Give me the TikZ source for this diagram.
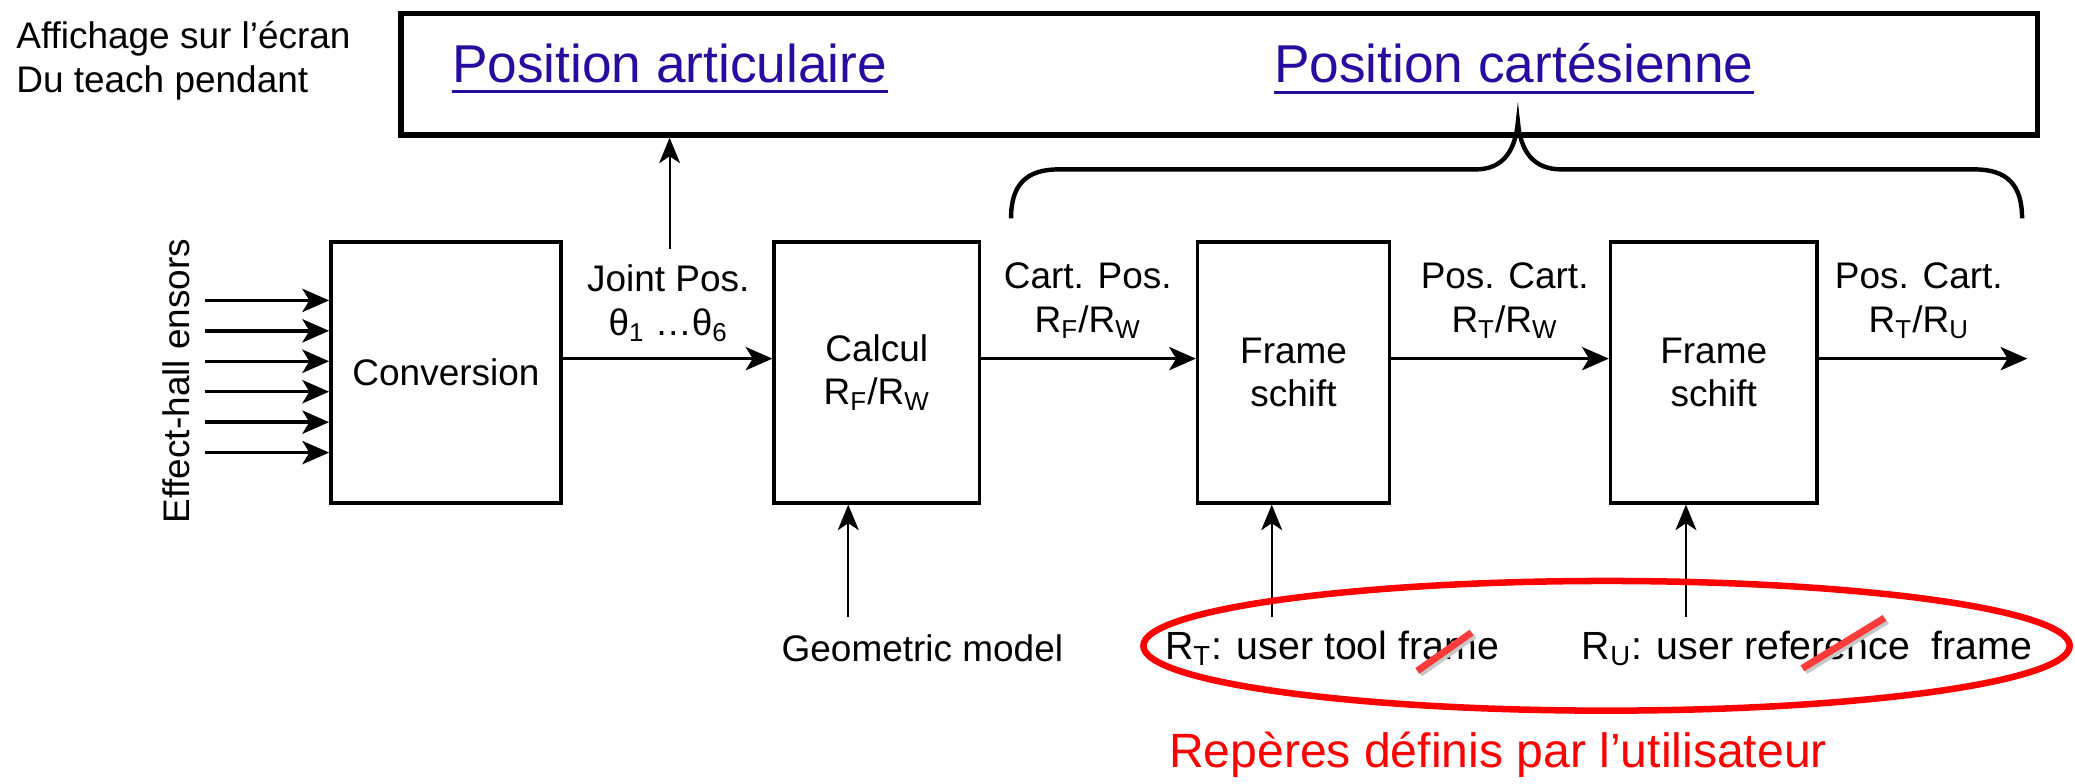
\documentclass[tikz,border=0pt]{standalone}
\usepackage{fontspec}
\setmainfont{Liberation Sans}
\usetikzlibrary{arrows.meta}
\definecolor{linkblue}{RGB}{40,12,160}
\definecolor{strikered}{RGB}{255,60,60}
\newcommand{\fsA}{\fontsize{15.9pt}{18.8pt}\selectfont}
\newcommand{\fsB}{\fontsize{22.9pt}{26pt}\selectfont}
\newcommand{\fsC}{\fontsize{20.7pt}{24pt}\selectfont}
\newcommand{\fsD}{\fontsize{16.9pt}{19pt}\selectfont}
\begin{document}
\begin{tikzpicture}[x=0.02cm,y=-0.02cm,
  block/.style={draw, line width=1.5pt, minimum height=3.94cm, align=center, font=\fsA, inner sep=0pt},
  lbl/.style={align=center, font=\fsA, inner sep=0pt},
  arr/.style={-{Stealth[length=11.5pt,width=10pt,inset=3pt]}, line width=1.45pt},
  varr/.style={-{Stealth[length=11pt,width=9pt,inset=3pt]}, line width=0.9pt},
  strike/.style={line width=3pt, strikered},
  strikeshadow/.style={line width=3pt, black!22}]
\useasboundingbox (0,0) rectangle (1568,592);

% teach pendant display
\node[align=left, anchor=west, font=\fsA, inner sep=0pt] (title) at (12,46)
  {Affichage sur l’écran\\Du teach pendant};
\node[draw, line width=2.3pt, minimum width=24.74cm, minimum height=1.84cm, inner sep=0pt] (disp) at (921.5,56) {};
\node[font=\fsB, text=linkblue, inner xsep=0pt] (pa) at (506,48) {Position articulaire};
\node[font=\fsB, text=linkblue, inner xsep=0pt] (pc) at (1144,48) {Position cartésienne};
\draw[linkblue, line width=1.2pt] ([yshift=-4pt]pa.base west) -- ([yshift=-4pt]pa.base east);
\draw[linkblue, line width=1.2pt] ([yshift=-4pt]pc.base west) -- ([yshift=-4pt]pc.base east);

% processing chain
\node[block, minimum width=3.48cm] (conv) at (337,281.5) {Conversion};
\node[block, minimum width=3.10cm] (calc) at (662.5,281.5) {Calcul\\R\textsubscript{F}/R\textsubscript{W}};
\node[block, minimum width=2.90cm] (fs1) at (977.5,281.5) {Frame\\schift};
\node[block, minimum width=3.12cm] (fs2) at (1295,281.5) {Frame\\schift};

\node[lbl, rotate=90] (sens) at (133,288) {Effect-hall ensors};
\foreach \i/\yy in {1/227,2/250,3/273,4/296,5/319,6/342}{
  \coordinate (s\i) at (155,\yy);
  \draw[arr] (s\i) -- (s\i -| conv.west);
}

\coordinate (row) at (0,271);
\draw[arr] (conv.east |- row) -- (calc.west |- row);
\draw[arr] (calc.east |- row) -- (fs1.west |- row);
\draw[arr] (fs1.east |- row) -- (fs2.west |- row);
\coordinate (out) at (1532,271);
\draw[arr] (fs2.east |- row) -- (out);

\node[lbl] (jpos) at (505,229) {Joint Pos.\\θ\textsubscript{1} …θ\textsubscript{6}};
\node[lbl] (cpos) at (822,227) {Cart. Pos.\\R\textsubscript{F}/R\textsubscript{W}};
\node[lbl] (pos2) at (1137,227) {Pos. Cart.\\R\textsubscript{T}/R\textsubscript{W}};
\node[lbl] (pos3) at (1450,227) {Pos. Cart.\\R\textsubscript{T}/R\textsubscript{U}};

\coordinate (jp) at (506,188);
\draw[varr] (jp) -- (jp |- disp.south);

% brace grouping the cartesian outputs
\draw[line width=1.9pt]
  (764,165) .. controls (764,140) and (775,128) .. (800,128) -- (1115,128)
  .. controls (1135,128) and (1145,115) .. (1147,92)
  .. controls (1149,115) and (1159,128) .. (1180,128) -- (1492,128)
  .. controls (1517,128) and (1528,140) .. (1528,165);

% external inputs
\node[lbl] (geo) at (697,490) {Geometric model};
\coordinate (g0) at (641,466);
\draw[varr] (g0) -- (g0 |- calc.south);

\node[font=\fsD, inner sep=0pt, anchor=west] (rt) at (880,490) {R\textsubscript{T}: user tool frame};
\node[font=\fsD, inner sep=0pt, anchor=west] (ru) at (1195,490) {R\textsubscript{U}: user reference\ \ frame};
\coordinate (t0) at (961,466);
\draw[varr] (t0) -- (t0 |- fs1.south);
\coordinate (u0) at (1274,466);
\draw[varr] (u0) -- (u0 |- fs2.south);

% user frames highlight
\draw[red, line width=2.8pt] (1214,488) ellipse [x radius=350, y radius=49];
\draw[strikeshadow] (1073,509) -- (1114,480);
\draw[strike] (1071,507) -- (1112,478);
\draw[strikeshadow] (1364,507) -- (1426,469);
\draw[strike] (1362,505) -- (1424,467);
\node[font=\fsC, text=red, inner sep=0pt] (rep) at (1132,570) {Repères définis par l’utilisateur};
\end{tikzpicture}
\end{document}
